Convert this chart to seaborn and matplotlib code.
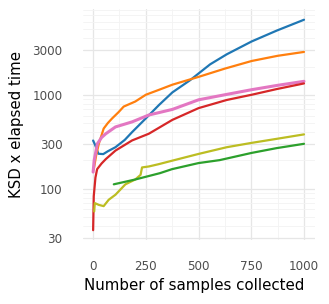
import numpy as np
import pandas as pd
import matplotlib
matplotlib.use("Agg")
import matplotlib.pyplot as plt
import matplotlib.ticker as mticker
import seaborn as sns

# values (x = samples collected, y = KSD x elapsed time)
blue_x = [0, 10, 25, 48, 70, 106, 150, 185, 250, 313, 376, 460, 555, 634, 752, 871, 1000]
blue_y = [325, 290, 235, 233, 250, 276, 330, 400, 560, 780, 1060, 1430, 2110, 2700, 3700, 4830, 6300]

orange_x = [3, 15, 27, 50, 70, 90, 120, 145, 200, 250, 313, 376, 500, 625, 752, 875, 1000]
orange_y = [160, 230, 300, 436, 500, 559, 650, 748, 847, 1000, 1130, 1280, 1550, 1900, 2290, 2600, 2860]

pink_x = [0, 5, 20, 40, 60, 106, 185, 264, 376, 500, 625, 752, 875, 1000]
pink_y = [150, 200, 300, 350, 384, 454, 514, 608, 698, 883, 1000, 1132, 1260, 1390]

red_x = [0, 3, 11, 19, 40, 60, 106, 185, 264, 376, 500, 634, 752, 871, 1000]
red_y = [36, 83, 131, 161, 185, 206, 254, 326, 384, 540, 720, 880, 1000, 1150, 1320]

olive_x = [5, 8, 27, 50, 74, 106, 153, 200, 225, 232, 264, 311, 374, 500, 634, 752, 871, 1000]
olive_y = [57, 70, 67, 65, 76, 86, 111, 125, 140, 168, 172, 182, 198, 234, 276, 307, 339, 378]

green_x = [98, 200, 317, 374, 500, 600, 752, 871, 1000]
green_y = [111, 125, 146, 161, 187, 201, 240, 270, 300]

series = {
    "blue": (blue_x, blue_y, "#1f77b4"),
    "orange": (orange_x, orange_y, "#ff7f0e"),
    "pink": (pink_x, pink_y, "#e377c2"),
    "red": (red_x, red_y, "#d62728"),
    "olive": (olive_x, olive_y, "#bcbd22"),
    "green": (green_x, green_y, "#2ca02c"),
}

frames = []
for name, (xs, ys, _) in series.items():
    frames.append(pd.DataFrame({"samples": xs, "value": ys, "method": name}))
df = pd.concat(frames, ignore_index=True)
palette = {name: c for name, (_, _, c) in series.items()}

sns.set_theme(style="white")
plt.rcParams['font.family'] = ['DejaVu Sans']

fig = plt.figure(figsize=(3.29, 3.04), dpi=100)
ax = fig.add_axes([0.251, 0.2105, 0.705, 0.7615])

for name in series:
    sub = df[df["method"] == name]
    sns.lineplot(data=sub, x="samples", y="value", color=palette[name],
                 lw=2.2 if name == "pink" else 1.6, ax=ax, sort=False,
                 estimator=None, legend=False)

ax.set_yscale("log")
ax.set_xlim(-50, 1050)
ax.set_ylim(28.3, 8300)
ax.set_xticks([0, 250, 500, 750, 1000])
ax.xaxis.set_minor_locator(mticker.FixedLocator([-125, 125, 375, 625, 875]))
ax.yaxis.set_major_locator(mticker.FixedLocator([30, 100, 300, 1000, 3000]))
ax.yaxis.set_major_formatter(mticker.FuncFormatter(lambda v, p: f"{int(v)}"))
ax.yaxis.set_minor_locator(mticker.LogLocator(base=10, subs=np.arange(2, 10)))
ax.yaxis.set_minor_formatter(mticker.NullFormatter())

ax.grid(True, which="major", color="#e6e6e6", lw=0.9)
ax.grid(True, which="minor", color="#f3f3f3", lw=0.6)
ax.set_axisbelow(True)
for s in ax.spines.values():
    s.set_visible(False)
ax.tick_params(which="both", length=0, labelsize=8.6, labelcolor="#4d4d4d")
ax.tick_params(axis="x", pad=14.5)
ax.tick_params(axis="y", pad=14.5)

ax.set_xlabel("Number of samples collected", fontsize=10.8, color="black")
ax.set_ylabel("KSD x elapsed time", fontsize=10.8, color="black")
ax.xaxis.set_label_coords(0.48, -0.165)
ax.yaxis.set_label_coords(-0.254, 0.5)

fig.savefig("out.png", dpi=100)
